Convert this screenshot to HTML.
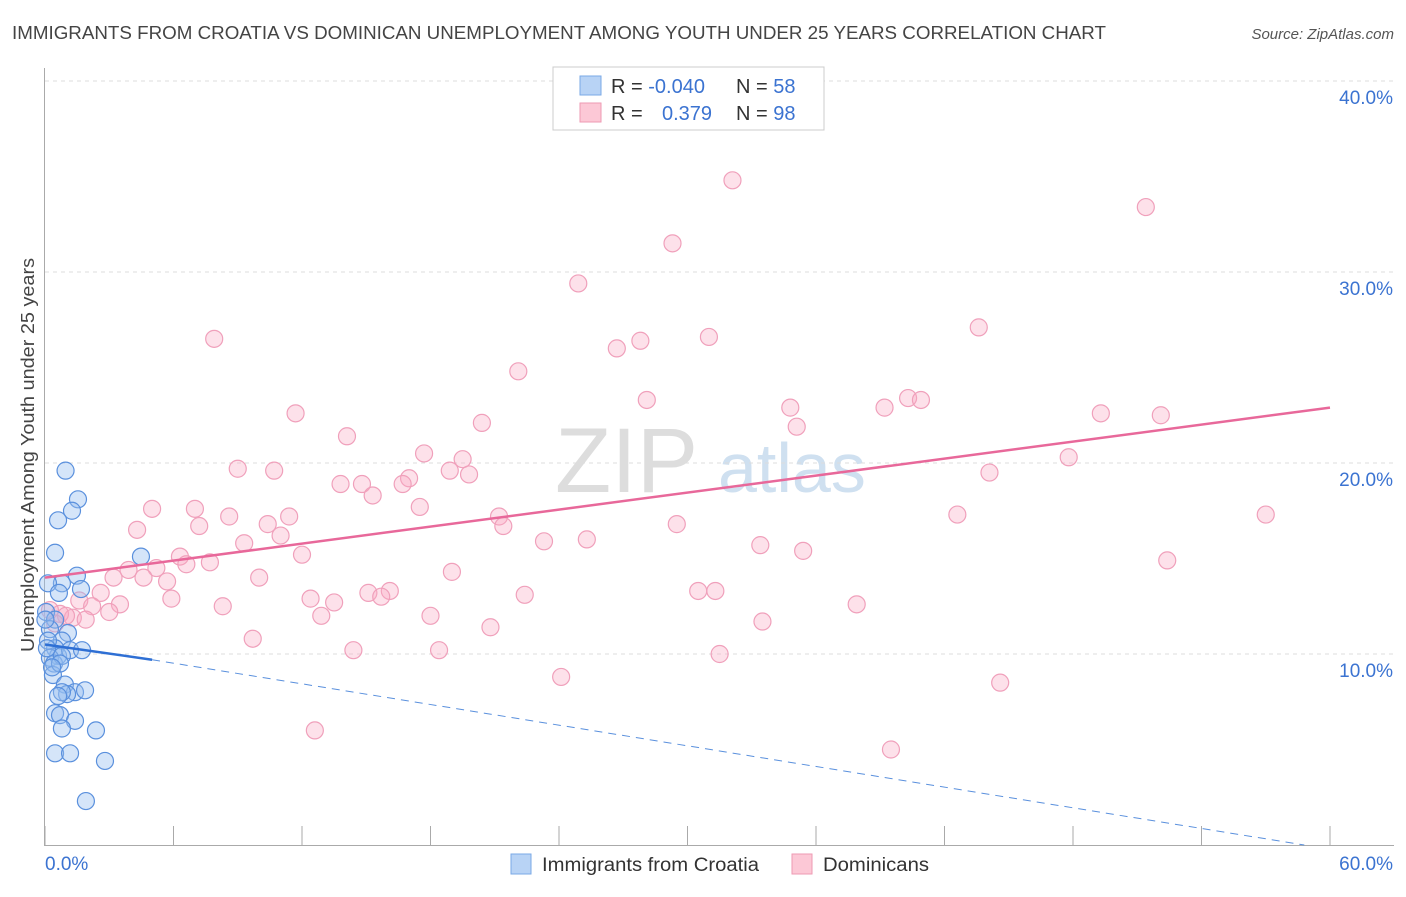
<!DOCTYPE html>
<html><head><meta charset="utf-8"><style>
body{margin:0;background:#fff;font-family:"Liberation Sans",sans-serif;}
svg text{font-family:"Liberation Sans",sans-serif;}
</style></head><body>
<svg id="chart" width="1406" height="892" xmlns="http://www.w3.org/2000/svg">
<text x="12" y="39" font-size="18" fill="#444" textLength="1094" lengthAdjust="spacingAndGlyphs">IMMIGRANTS FROM CROATIA VS DOMINICAN UNEMPLOYMENT AMONG YOUTH UNDER 25 YEARS CORRELATION CHART</text>
<text x="1394" y="39" font-size="15" fill="#555" text-anchor="end" font-style="italic">Source: ZipAtlas.com</text>
<g><text x="555" y="492" font-size="92" fill="#ddd" font-family="Liberation Serif">ZIP</text><text x="718" y="492" font-size="70" fill="#cfe0f0">atlas</text></g>
<g id="grid"></g>
<g id="axes"></g>
<g id="pts"></g>
<g id="trend"></g>
<text transform="translate(34,455) rotate(-90)" font-size="18" fill="#444" text-anchor="middle" textLength="394" lengthAdjust="spacingAndGlyphs">Unemployment Among Youth under 25 years</text>
<g>
<rect x="553" y="67" width="271" height="63" fill="#fff" stroke="#ccc"/>
<rect x="580" y="76" width="21" height="19" fill="#b8d3f5" stroke="#7aa8e6"/>
<rect x="580" y="103" width="21" height="19" fill="#fcc8d6" stroke="#ee9ab3"/>
<text x="611" y="93" font-size="20" fill="#333">R = <tspan fill="#3b73d1">-0.040</tspan></text>
<text x="736" y="93" font-size="20" fill="#333">N = <tspan fill="#3b73d1">58</tspan></text>
<text x="611" y="120" font-size="20" fill="#333">R = <tspan fill="#3b73d1" x="662">0.379</tspan></text>
<text x="736" y="120" font-size="20" fill="#333">N = <tspan fill="#3b73d1">98</tspan></text>
</g>
<g>
<rect x="511" y="854" width="20" height="20" fill="#b8d3f5" stroke="#7aa8e6"/>
<text x="542" y="871" font-size="19" fill="#333" textLength="217" lengthAdjust="spacingAndGlyphs">Immigrants from Croatia</text>
<rect x="792" y="854" width="20" height="20" fill="#fcc8d6" stroke="#ee9ab3"/>
<text x="823" y="871" font-size="19" fill="#333" textLength="106" lengthAdjust="spacingAndGlyphs">Dominicans</text>
</g>
</svg>
<script>
const yTicks=[10,20,30,40];
const yTickLabels=["10.0%","20.0%","30.0%","40.0%"];
const xTickLabels=["0.0%","60.0%"];
const blueX=[0.96,1.54,1.26,0.61,0.47,4.48,1.49,0.79,0.14,0.65,1.68,0.05,0.47,1.07,0.23,0.79,0.47,0.61,1.17,1.73,0.23,0.42,0.79,0.37,0.93,1.40,1.03,0.79,1.87,0.61,0.47,0.70,1.40,0.79,2.38,0.47,1.17,2.80,1.91,0.02,0.14,0.70,0.33,0.09];
const blueY=[19.6,18.1,17.5,17.0,15.3,15.1,14.1,13.7,13.7,13.2,13.4,12.2,11.8,11.1,11.3,10.7,10.3,9.9,10.2,10.2,9.8,9.5,9.9,8.9,8.4,8.0,7.9,8.0,8.1,7.8,6.9,6.8,6.5,6.1,6.0,4.8,4.8,4.4,2.3,11.8,10.7,9.5,9.3,10.3];
const pinkX=[32.1,51.4,29.3,24.9,7.9,43.6,31.0,27.8,26.7,22.1,40.3,40.9,28.1,11.7,34.8,39.2,49.3,52.1,20.4,35.1,14.1,17.7,19.5,47.8,18.9,19.8,9.0,10.7,17.0,13.8,14.8,16.7,44.1,15.3,17.5,5.0,7.0,57.0,8.6,42.6,11.4,10.4,21.2,21.4,29.5,4.3,7.2,9.3,11.0,23.3,25.3,33.4,35.4,12.0,6.3,52.4,7.7,6.6,5.2,3.9,4.6,3.2,5.7,10.0,19.0,15.1,16.1,12.4,13.5,15.7,22.4,30.5,31.3,2.6,1.6,2.2,3.5,5.9,8.3,3.0,37.9,12.9,18.0,1.3,1.9,0.70,20.8,33.5,9.7,14.4,18.4,31.5,24.1,44.6,12.6,39.5,0.98,0.23,0.47];
const pinkY=[34.8,33.4,31.5,29.4,26.5,27.1,26.6,26.4,26.0,24.8,23.4,23.3,23.3,22.6,22.9,22.9,22.6,22.5,22.1,21.9,21.4,20.5,20.2,20.3,19.6,19.4,19.7,19.6,19.2,18.9,18.9,18.9,19.5,18.3,17.7,17.6,17.6,17.3,17.2,17.3,17.2,16.8,17.2,16.7,16.8,16.5,16.7,15.8,16.2,15.9,16.0,15.7,15.4,15.2,15.1,14.9,14.8,14.7,14.5,14.4,14.0,14.0,13.8,14.0,14.3,13.2,13.3,12.9,12.7,13.0,13.1,13.3,13.3,13.2,12.8,12.5,12.6,12.9,12.5,12.2,12.6,12.0,12.0,11.9,11.8,12.1,11.4,11.7,10.8,10.2,10.2,10.0,8.8,8.5,6.0,5.0,12.0,12.3,11.6];
const pinkTrend=[0,14.0,60,22.9];
const blueTrendSolid=[0,10.5,5,9.7];
const blueTrendDash=[5,9.7,58.8,0];
const NS="http://www.w3.org/2000/svg";
const X0=45,X1=1330,Y0=845,PY=19.1;
const sx=v=>X0+v/60*(X1-X0), sy=v=>Y0-v*PY;
function mk(t,a,p){const e=document.createElementNS(NS,t);for(const k in a)e.setAttribute(k,a[k]);document.getElementById(p).appendChild(e);return e;}
yTicks.forEach((t,i)=>{
 const l=mk('line',{x1:45,x2:1394,y1:sy(t),y2:sy(t),stroke:'#ddd','stroke-dasharray':'4,4'},'grid');
 
 
 const tx=mk('text',{x:1393,y:sy(t)+23,'font-size':19,fill:'#3b73d1','text-anchor':'end'},'axes');
 tx.textContent=yTickLabels[i];
 
 
});
mk('line',{x1:44.5,x2:44.5,y1:68,y2:846,stroke:'#aaa'},'axes');
mk('line',{x1:44,x2:1394,y1:845.5,y2:845.5,stroke:'#aaa'},'axes');
for(let i=0;i<=10;i++){const x=sx(i*6);mk('line',{x1:x,x2:x,y1:826,y2:846,stroke:'#aaa'},'axes');}
xTickLabels.forEach((s,i)=>{const t=mk('text',{x:i?1393:45,y:870,'font-size':19,fill:'#3b73d1','text-anchor':i?'end':'start'},'axes');t.textContent=s;
 
 });
pinkX.forEach((v,i)=>{const c=mk('circle',{cx:sx(v),cy:sy(pinkY[i]),r:8.5,fill:'rgba(248,170,195,0.35)',stroke:'#f0a0bb','stroke-width':1.2},'pts');
 
 });
blueX.forEach((v,i)=>{const c=mk('circle',{cx:sx(v),cy:sy(blueY[i]),r:8.5,fill:'rgba(150,190,240,0.4)',stroke:'#5a90dd','stroke-width':1.2},'pts');
 
 });
const a=mk('line',{x1:sx(pinkTrend[0]),y1:sy(pinkTrend[1]),x2:sx(pinkTrend[2]),y2:sy(pinkTrend[3]),stroke:'#e8689a','stroke-width':2.5},'trend');


const b=mk('line',{x1:sx(blueTrendSolid[0]),y1:sy(blueTrendSolid[1]),x2:sx(blueTrendSolid[2]),y2:sy(blueTrendSolid[3]),stroke:'#2e6fd4','stroke-width':2.5},'trend');


const c=mk('line',{x1:sx(blueTrendDash[0]),y1:sy(blueTrendDash[1]),x2:sx(blueTrendDash[2]),y2:sy(blueTrendDash[3]),stroke:'#5a90dd','stroke-width':1,'stroke-dasharray':'8,6'},'trend');


</script>
</body></html>
